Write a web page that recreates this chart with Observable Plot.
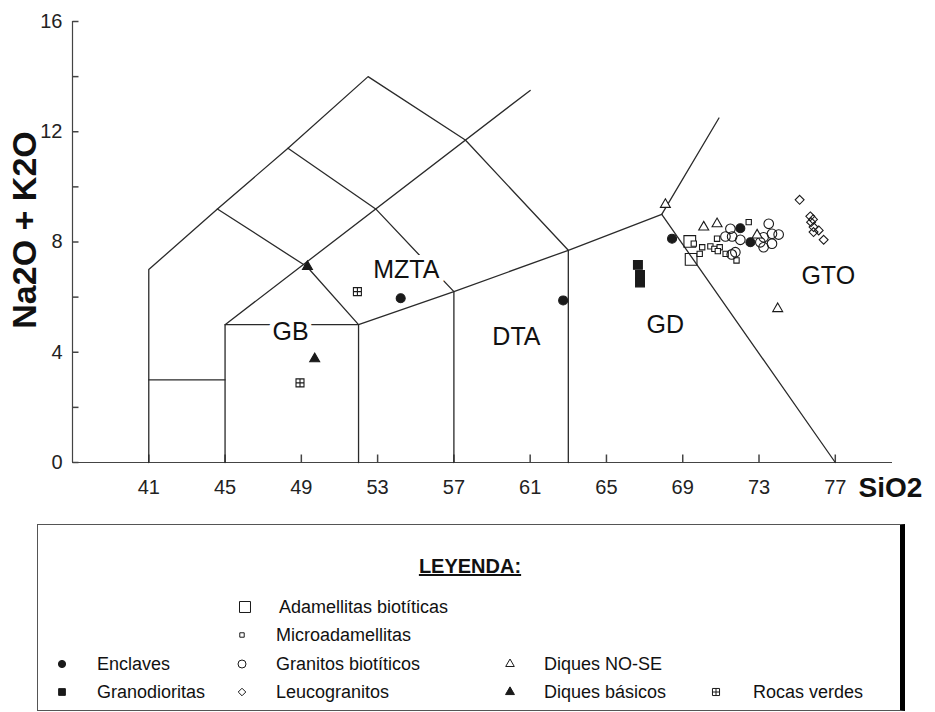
<!DOCTYPE html>
<html><head><meta charset="utf-8">
<script src="https://cdn.jsdelivr.net/npm/d3@7"></script>
<script src="https://cdn.jsdelivr.net/npm/@observablehq/plot@0.6"></script>
<style>
body{margin:0;background:#fff;font-family:"Liberation Sans",Arial,sans-serif;}
#chart{position:relative;width:935px;height:712px;overflow:hidden;}
#legend{position:relative;width:935px;height:200px;}
#legend .box{position:absolute;box-sizing:border-box;border:1px solid #555;border-right:5px solid #000;}
#legend .t{position:absolute;white-space:nowrap;font-size:18px;color:#111;line-height:1;transform:translateY(-50%);}
#legend svg{position:absolute;overflow:visible;}
</style></head><body><div id="chart"></div><script>
// ---- axes ----
const xDomain = [37, 80];
const yDomain = [0, 16];
const xTicks = [41, 45, 49, 53, 57, 61, 65, 69, 73, 77];
const yTicks = [0, 2, 4, 6, 8, 10, 12, 14, 16];
const yTickLabels = [0, 4, 8, 12, 16];
const xLabel = "SiO2";
const yLabel = "Na2O + K2O";

// ---- field boundaries (SiO2, Na2O+K2O vertices) ----
const boundaryOuter = [[41,0],[41,7],[44.6,9.2],[48.3,11.4],[52.5,14],[57.6,11.7],[63,7.7],[63,0]];
const boundaryLow41 = [[41,3],[45,3]];
const boundaryGB = [[45,0],[45,5],[52,5],[52,0]];
const boundaryA = [[44.6,9.2],[49.3,7.1],[52,5]];
const boundaryB = [[45,5],[61,13.5]];
const boundaryC = [[48.3,11.4],[52.9,9.2],[57,6.2],[57,0]];
const boundaryD = [[52,5],[57,6.2],[63,7.7],[67.9,9.0]];
const boundaryE = [[67.9,9.0],[70.9,12.5]];
const boundaryF = [[67.9,9.0],[77,0]];
const boundaries = [boundaryOuter, boundaryLow41, boundaryGB, boundaryA, boundaryB, boundaryC, boundaryD, boundaryE, boundaryF];

// ---- field names ----
const regionNames = ["MZTA", "GB", "DTA", "GD", "GTO"];
const regionX = [54.5, 48.44, 60.28, 68.08, 76.63];
const regionY = [7.0, 4.75, 4.57, 5.0, 6.75];

// ---- samples ----
const enclaves = [[54.21,5.96],[62.73,5.88],[68.44,8.12],[72.02,8.50],[72.55,7.99]];
const granodioritas = [[66.65,7.17],[66.76,6.80],[66.76,6.53]];
const adamellitas = [[69.37,8.02],[69.44,7.37]];
const microadamellitas = [[69.58,7.94],[70.02,7.81],[69.89,7.57],[70.45,7.84],[70.66,7.75],[70.94,7.81],[70.84,7.67],[71.25,7.57],[71.82,7.33],[70.80,8.12],[72.46,8.72]];
const granitos = [[71.50,8.48],[71.24,8.20],[71.59,8.20],[72.02,8.08],[71.76,7.63],[71.57,7.55],[73.51,8.66],[73.68,8.30],[73.24,8.17],[74.03,8.27],[73.68,7.94],[73.24,7.81],[73.07,7.99]];
const leucogranitos = [[75.13,9.53],[75.69,8.93],[75.83,8.82],[75.73,8.72],[75.86,8.54],[76.13,8.42],[75.86,8.36],[76.39,8.08]];
const diquesNOSE = [[68.09,9.36],[70.10,8.54],[70.80,8.66],[72.9,8.25],[73.98,5.58]];
const diquesBasicos = [[49.32,7.11],[49.70,3.76]];
const rocasVerdes = [[51.94,6.20],[48.93,2.89]];

// ---- custom symbols ----
const boxPlus = {draw(ctx, size){ const s = Math.sqrt(size)/2;
  ctx.moveTo(-s,-s); ctx.lineTo(s,-s); ctx.lineTo(s,s); ctx.lineTo(-s,s); ctx.closePath();
  ctx.moveTo(0,-s); ctx.lineTo(0,s); ctx.moveTo(-s,0); ctx.lineTo(s,0); }};
const tickUp = {draw(ctx){ ctx.moveTo(0,0); ctx.lineTo(0,-8); }};
const tickRight = {draw(ctx){ ctx.moveTo(0,0); ctx.lineTo(6,0); }};

const ink = "#1a1a1a";
const series = [
  {name:"Adamellitas biotíticas", data:adamellitas, symbol:"square", r:6.6, fill:"none", lr:6.2},
  {name:"Microadamellitas", data:microadamellitas, symbol:"square", r:3.0, fill:"white", lr:2.5},
  {name:"Enclaves", data:enclaves, symbol:"circle", r:4.5, fill:ink, lr:3.6},
  {name:"Granitos biotíticos", data:granitos, symbol:"circle", r:4.8, fill:"none", lr:4.0},
  {name:"Diques NO-SE", data:diquesNOSE, symbol:"triangle", r:3.7, fill:"white", lr:3.2},
  {name:"Granodioritas", data:granodioritas, symbol:"square", r:5.0, fill:ink, lr:3.8},
  {name:"Leucogranitos", data:leucogranitos, symbol:"diamond2", r:4.0, fill:"none", lr:3.4},
  {name:"Diques básicos", data:diquesBasicos, symbol:"triangle", r:3.7, fill:ink, lr:3.3},
  {name:"Rocas verdes", data:rocasVerdes, symbol:boxPlus, r:4.5, fill:"none", lr:4.0}
];

const fieldTable = boundaries.flatMap((pts, i) => pts.map(p => ({x:p[0], y:p[1], id:i})));
const regionTable = regionNames.map((n, i) => ({name:n, x:regionX[i], y:regionY[i]}));

const font = '"Liberation Sans", Arial, sans-serif';
const plot = Plot.plot({
  width: 935, height: 512,
  marginLeft: 72, marginRight: 43, marginTop: 21, marginBottom: 50,
  x: {domain: xDomain},
  y: {domain: yDomain},
  style: {fontFamily: font, background: "white", color: ink, overflow: "visible"},
  marks: [
    Plot.ruleY([yDomain[0]], {stroke: "#444", strokeWidth: 1.2}),
    Plot.ruleX([xDomain[0]], {stroke: "#444", strokeWidth: 1.2}),
    Plot.axisX(xTicks, {tickSize: 0, tickPadding: 17, fontSize: 20, label: null, fill: "#222"}),
    Plot.axisY(yTickLabels, {tickSize: 0, tickPadding: 10, fontSize: 20, label: null, fill: "#222"}),
    Plot.dot(xTicks, {x: d => d, y: () => yDomain[0], symbol: tickUp, stroke: "#444", fill: "none"}),
    Plot.dot(yTicks, {x: () => xDomain[0], y: d => d, symbol: tickRight, stroke: "#444", fill: "none"}),
    Plot.line(fieldTable, {x: "x", y: "y", z: "id", stroke: "#2a2a2a", strokeWidth: 1.3, curve: "linear"}),
    Plot.text(regionTable, {x: "x", y: "y", text: "name", fontSize: 25, fill: "#111", stroke: "white", strokeWidth: 10}),
    ...series.map(s => Plot.dot(s.data, {
      symbol: s.symbol, r: s.r,
      fill: s.fill, stroke: ink, strokeWidth: 1.1
    })),
    Plot.text([xLabel], {frameAnchor: "bottom-right", textAnchor: "middle", dx: -2, dy: 34, fontSize: 28, fontWeight: "bold", fill: "#111"}),
    Plot.text([yLabel], {frameAnchor: "left", textAnchor: "middle", rotate: -90, dx: -47, dy: -12, fontSize: 34, fontWeight: "bold", fill: "#111"})
  ]
});
const chart = document.getElementById("chart");
chart.appendChild(plot);

// ---- legend ----
const legendTitle = "LEYENDA:";
const legendCol = {0: 62, 1: 242, 2: 510, 3: 716};
const legendTextX = {0: 97, 1: 276, 2: 544, 3: 753};
const legendRowY = [607, 635, 664, 692];
const legendPos = {
  "Adamellitas biotíticas": [1, 0],
  "Microadamellitas": [1, 1],
  "Enclaves": [0, 2],
  "Granitos biotíticos": [1, 2],
  "Diques NO-SE": [2, 2],
  "Granodioritas": [0, 3],
  "Leucogranitos": [1, 3],
  "Diques básicos": [2, 3],
  "Rocas verdes": [3, 3]
};
const top0 = 512;
const legend = d3.select(chart).append("div").attr("id", "legend");
legend.append("div").attr("class", "box")
  .style("left", "37px").style("top", (524 - top0) + "px")
  .style("width", "868px").style("height", "187px");
legend.append("div").attr("class", "t")
  .style("left", "470px").style("top", (566 - top0) + "px")
  .style("transform", "translate(-50%,-50%)")
  .style("font-weight", "bold").style("font-size", "20px").style("text-decoration", "underline")
  .text(legendTitle);
const symMap = {square: d3.symbolSquare, circle: d3.symbolCircle, triangle: d3.symbolTriangle, diamond2: d3.symbolDiamond2};
series.forEach(s => {
  const [c, r] = legendPos[s.name];
  const sx = legendCol[c] + (s.name === "Adamellitas biotíticas" ? 3 : 0);
  const sy = legendRowY[r];
  const type = typeof s.symbol === "string" ? symMap[s.symbol] : s.symbol;
  const svg = legend.append("svg").attr("width", 20).attr("height", 20)
    .style("left", (sx - 10) + "px").style("top", (sy - top0 - 10) + "px");
  svg.append("path").attr("transform", "translate(10,10)")
    .attr("d", d3.symbol(type, s.lr * s.lr * Math.PI)())
    .attr("fill", s.fill).attr("stroke", ink).attr("stroke-width", 1);
  legend.append("div").attr("class", "t")
    .style("left", (legendTextX[c] + (s.name === "Adamellitas biotíticas" ? 3 : 0)) + "px")
    .style("top", (sy - top0) + "px")
    .text(s.name);
});
</script></body></html>
